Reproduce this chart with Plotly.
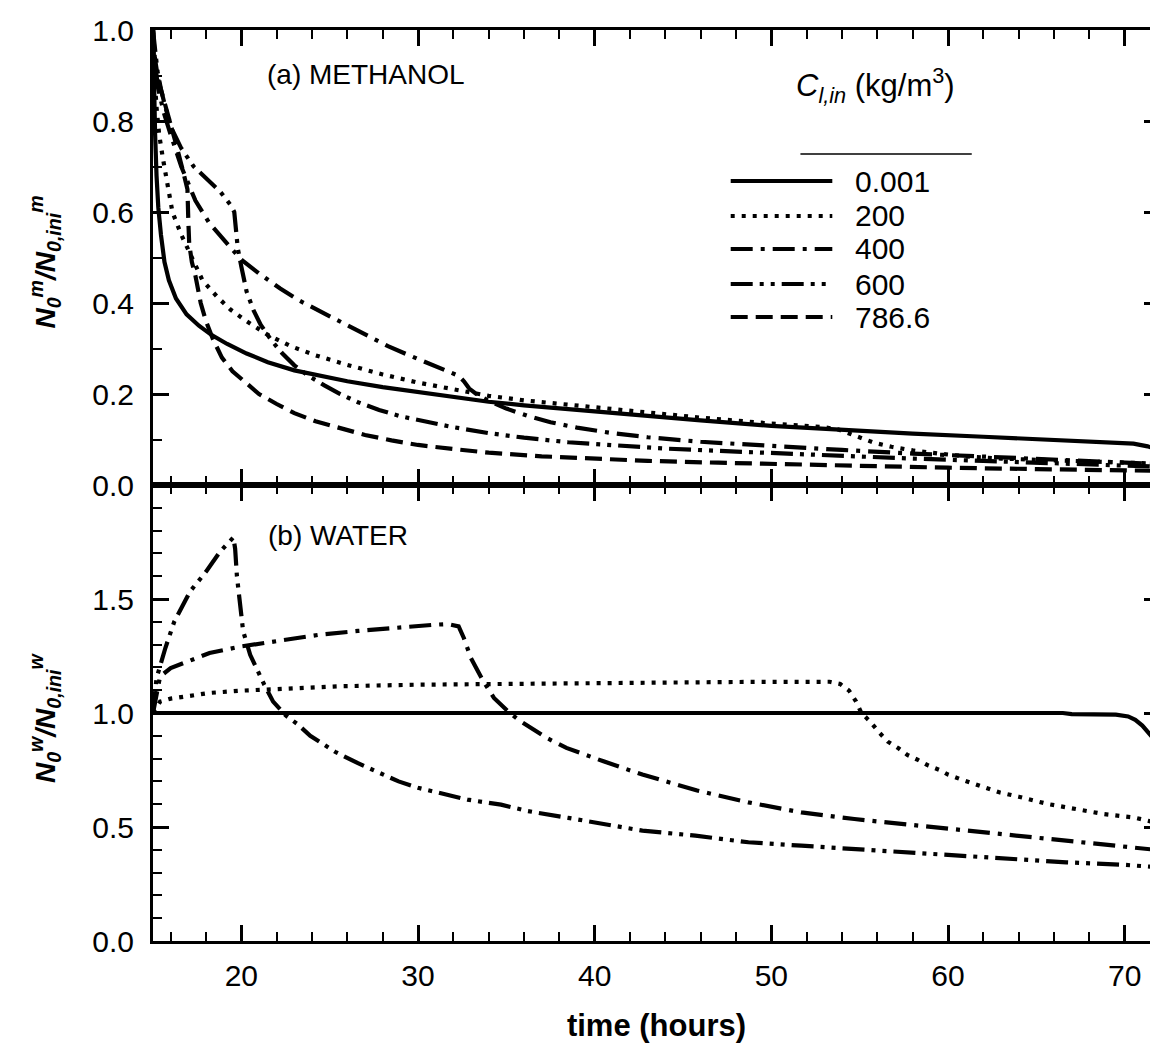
import plotly.graph_objects as go

# ---------------- data ----------------
series_labels = ["0.001", "200", "400", "600", "786.6"]

# (a) METHANOL
t_m_0001 = [15, 15.05, 15.12, 15.2, 15.3, 15.45, 15.65, 15.9, 16.3, 16.9, 17.6, 18.3, 19.2, 20.3, 21.5, 23, 24.5, 26, 28, 30, 32, 34, 36, 38, 40, 43, 46, 50, 54, 58, 62, 66, 69, 70.5, 71.3, 72]
m_0001 = [1.0, 0.88, 0.77, 0.68, 0.61, 0.55, 0.49, 0.45, 0.41, 0.375, 0.35, 0.33, 0.31, 0.289, 0.27, 0.252, 0.239, 0.228, 0.215, 0.204, 0.193, 0.183, 0.175, 0.168, 0.161, 0.151, 0.142, 0.13, 0.121, 0.113, 0.106, 0.1, 0.095, 0.091, 0.085, 0.076]

t_m_200 = [15, 15.08, 15.2, 15.35, 15.55, 15.8, 16.1, 16.6, 17.2, 17.8, 18.6, 19.4, 20.3, 21.5, 22.8, 24.2, 26, 28, 30, 32, 34, 36, 38, 40, 43, 46, 50, 53, 53.8, 54.4, 55, 55.8, 56.8, 58, 59.5, 61, 63, 65, 67, 69, 71, 72]
m_200 = [1.0, 0.9, 0.83, 0.77, 0.72, 0.66, 0.6, 0.55, 0.5, 0.45, 0.415, 0.385, 0.36, 0.33, 0.305, 0.285, 0.264, 0.243, 0.225, 0.21, 0.196, 0.186, 0.178, 0.171, 0.158, 0.148, 0.135, 0.127, 0.122, 0.113, 0.103, 0.093, 0.084, 0.076, 0.069, 0.063, 0.058, 0.055, 0.052, 0.05, 0.048, 0.047]

t_m_400 = [15, 15.1, 15.3, 15.6, 16, 16.6, 17.4, 18.2, 19.1, 20, 21, 22.2, 23.3, 24.3, 25.2, 26.2, 27.2, 28.3, 29.5, 30.6, 31.6, 32.3, 32.6, 32.9, 33.3, 34, 35, 36.2, 37.5, 39, 41, 43, 46, 50, 54, 58, 62, 66, 69, 72]
m_400 = [1.0, 0.93, 0.87, 0.82, 0.77, 0.7, 0.625, 0.575, 0.535, 0.495, 0.465, 0.432, 0.405, 0.385, 0.365, 0.345, 0.325, 0.305, 0.285, 0.267, 0.25, 0.24, 0.228, 0.212, 0.2, 0.185, 0.168, 0.152, 0.138, 0.126, 0.114, 0.105, 0.095, 0.085, 0.077, 0.069, 0.062, 0.056, 0.051, 0.046]

t_m_600 = [15, 15.1, 15.25, 15.45, 15.7, 16.1, 16.6, 17.3, 18, 18.8, 19.4, 19.6, 19.7, 19.8, 20, 20.3, 20.7, 21.1, 21.7, 22.3, 23, 23.8, 24.7, 25.6, 26.6, 27.8, 29, 30.5, 32, 34, 36, 38.5, 41, 44, 47, 50, 54, 58, 62, 66, 69, 72]
m_600 = [1.0, 0.96, 0.91, 0.87, 0.83, 0.78, 0.74, 0.7, 0.675, 0.645, 0.615, 0.6, 0.56, 0.52, 0.48, 0.425, 0.383, 0.352, 0.318, 0.29, 0.263, 0.24, 0.219, 0.2, 0.182, 0.165, 0.151, 0.138, 0.127, 0.114, 0.104, 0.094, 0.087, 0.08, 0.075, 0.07, 0.064, 0.058, 0.053, 0.048, 0.044, 0.04]

t_m_7866 = [15, 15.1, 15.3, 15.6, 15.9, 16.3, 16.7, 16.95, 17.0, 17.05, 17.2, 17.4, 17.7, 18, 18.4, 18.9, 19.5, 20.2, 21, 22, 23, 24.2, 25.5, 27, 28.5, 30, 32, 34, 37, 40, 43, 47, 50, 55, 60, 65, 72]
m_7866 = [1.0, 0.94, 0.89, 0.85, 0.81, 0.75, 0.69, 0.65, 0.58, 0.53, 0.49, 0.46, 0.4, 0.36, 0.32, 0.28, 0.25, 0.228, 0.2, 0.178, 0.158, 0.14, 0.125, 0.11, 0.098, 0.088, 0.079, 0.071, 0.063, 0.058, 0.053, 0.049, 0.046, 0.042, 0.038, 0.035, 0.031]

# (b) WATER
t_w_0001 = [15, 25, 35, 45, 55, 66.5, 67, 69.5, 70.2, 70.6, 71.0, 71.4, 71.8, 72]
w_0001 = [1.0, 1.0, 1.0, 1.0, 1.0, 1.0, 0.995, 0.993, 0.985, 0.97, 0.945, 0.91, 0.875, 0.855]

t_w_200 = [15, 15.4, 16, 16.9, 18.2, 20, 22.3, 25.5, 29.8, 34, 38.4, 42.7, 48, 53.3, 53.9, 54.4, 54.8, 55.1, 55.6, 56.1, 56.6, 57.2, 57.7, 58.3, 58.9, 59.5, 60, 60.7, 61.7, 62.9, 64, 65.7, 67, 68.8, 70.5, 72]
w_200 = [1.0, 1.05, 1.063, 1.073, 1.088, 1.098, 1.107, 1.117, 1.124, 1.127, 1.131, 1.134, 1.136, 1.137, 1.127, 1.098, 1.05, 1.0, 0.962, 0.915, 0.874, 0.845, 0.816, 0.794, 0.769, 0.751, 0.73, 0.71, 0.684, 0.652, 0.633, 0.6, 0.582, 0.557, 0.542, 0.515]

t_w_400 = [15, 15.4, 16, 16.9, 18.2, 20, 22.3, 24.4, 26.6, 28.7, 30.9, 31.7, 32.3, 32.6, 33, 33.7, 34.3, 35.2, 35.8, 37.3, 38.4, 40.5, 42.7, 45.8, 48.7, 51.7, 54.7, 57.7, 60.7, 63.7, 66.7, 69.8, 72]
w_400 = [1.0, 1.16, 1.197, 1.226, 1.263, 1.292, 1.321, 1.343, 1.36, 1.375, 1.387, 1.39, 1.38, 1.328, 1.24, 1.139, 1.066, 1.0, 0.964, 0.89, 0.847, 0.788, 0.73, 0.66, 0.608, 0.564, 0.535, 0.511, 0.488, 0.465, 0.442, 0.418, 0.398]

t_w_600 = [15, 15.2, 15.7, 16.2, 17.1, 18, 18.8, 19.55, 19.65, 19.75, 20.1, 20.5, 21.3, 21.8, 22.5, 23.2, 23.9, 24.4, 25.3, 26.6, 27.6, 28.9, 30, 31.3, 32.8, 34.7, 36.2, 38.5, 40.7, 42.7, 45.7, 48.7, 51.7, 54.7, 57.7, 60.7, 63.7, 66.7, 69.8, 72]
w_600 = [1.0, 1.153, 1.285, 1.4, 1.533, 1.62, 1.708, 1.77, 1.72, 1.6, 1.36, 1.255, 1.124, 1.05, 0.99, 0.95, 0.9, 0.876, 0.83, 0.78, 0.745, 0.70, 0.672, 0.65, 0.62, 0.598, 0.57, 0.54, 0.513, 0.484, 0.462, 0.433, 0.418, 0.403, 0.389, 0.374, 0.36, 0.345, 0.335, 0.323]

top_y_ticks = [0.0, 0.2, 0.4, 0.6, 0.8, 1.0]
bottom_y_ticks = [0.0, 0.5, 1.0, 1.5]
x_ticks = [20, 30, 40, 50, 60, 70]

# ---------------- styles ----------------
dashes = {
    "0.001": "solid",
    "200": "4px,7px",
    "400": "22px,8px,4px,8px",
    "600": "22px,7px,4px,7px,4px,7px",
    "786.6": "17px,8px",
}
LW = 4.2
FONT = "Arial, Liberation Sans, sans-serif"

fig = go.Figure()

top = [(t_m_0001, m_0001, "0.001"), (t_m_200, m_200, "200"), (t_m_400, m_400, "400"),
       (t_m_600, m_600, "600"), (t_m_7866, m_7866, "786.6")]
for t, v, lab in top:
    fig.add_trace(go.Scatter(x=t, y=v, mode="lines", name=lab, showlegend=False,
                             line=dict(color="black", width=LW, dash=dashes[lab]),
                             xaxis="x", yaxis="y"))

bottom = [(t_w_0001, w_0001, "0.001"), (t_w_200, w_200, "200"), (t_w_400, w_400, "400"),
          (t_w_600, w_600, "600")]
for t, v, lab in bottom:
    fig.add_trace(go.Scatter(x=t, y=v, mode="lines", name=lab, showlegend=False,
                             line=dict(color="black", width=LW, dash=dashes[lab]),
                             xaxis="x2", yaxis="y2"))

common = dict(showline=True, linewidth=3, linecolor="black", mirror="allticks",
              ticks="inside", ticklen=16, tickwidth=2.5, tickcolor="black",
              showgrid=False, zeroline=False)
minor_x = dict(ticks="inside", ticklen=9, tickwidth=2.2, tickcolor="black", dtick=2, tick0=0)
minor_y = dict(ticks="inside", ticklen=9, tickwidth=2.2, tickcolor="black", dtick=0.1, tick0=0)

split = 456 / 911

fig.update_layout(
    width=1158, height=1046,
    paper_bgcolor="white", plot_bgcolor="white",
    margin=dict(l=145, r=3, t=22, b=113),
    font=dict(family=FONT, color="black", size=30),
    xaxis=dict(**common, domain=[0, 1], anchor="y", range=[15, 72],
               tickvals=x_ticks, showticklabels=False, minor=minor_x),
    xaxis2=dict(**common, domain=[0, 1], anchor="y2", range=[15, 72],
                tickvals=x_ticks, ticktext=[str(v) for v in x_ticks],
                tickfont=dict(size=30), ticklabelstandoff=6, minor=minor_x,
                title=dict(text="<b>time (hours)</b>", font=dict(size=31), standoff=24)),
    yaxis=dict(**common, domain=[split, 1], anchor="x", range=[0, 1.0],
               tickvals=top_y_ticks, ticktext=[f"{v:.1f}" for v in top_y_ticks],
               tickfont=dict(size=30), ticklabelstandoff=10, minor=minor_y),
    yaxis2=dict(**common, domain=[0, split], anchor="x2", range=[0, 2.0],
                tickvals=bottom_y_ticks, ticktext=[f"{v:.1f}" for v in bottom_y_ticks],
                tickfont=dict(size=30), ticklabelstandoff=10, minor=minor_y),
)

# y-axis titles
fig.add_annotation(xref="paper", yref="paper", x=-0.107, y=0.745, textangle=-90,
                   text="<b><i>N<sub>0</sub><sup>m</sup>/N<sub>0,ini</sub><sup>m</sup></i></b>",
                   showarrow=False, font=dict(size=28), xanchor="center", yanchor="middle")
fig.add_annotation(xref="paper", yref="paper", x=-0.107, y=0.245, textangle=-90,
                   text="<b><i>N<sub>0</sub><sup>w</sup>/N<sub>0,ini</sub><sup>w</sup></i></b>",
                   showarrow=False, font=dict(size=28), xanchor="center", yanchor="middle")

# panel labels
fig.add_annotation(xref="paper", yref="paper", x=(257 - 145) / 1011, y=(933 - 66) / 911,
                   text="(a) METHANOL", showarrow=False, font=dict(size=28),
                   xanchor="left", yanchor="middle")
fig.add_annotation(xref="paper", yref="paper", x=(258 - 145) / 1011, y=(933 - 527) / 911,
                   text="(b) WATER", showarrow=False, font=dict(size=28),
                   xanchor="left", yanchor="middle")

# custom legend
fig.add_annotation(xref="paper", yref="paper", x=(870 - 145) / 1011, y=(933 - 78) / 911,
                   text="<i>C<sub>l,in</sub></i> (kg/m<sup>3</sup>)", showarrow=False,
                   font=dict(size=31), xanchor="center", yanchor="middle")
fig.add_shape(type="line", xref="paper", yref="paper",
              x0=(795 - 145) / 1011, x1=(967 - 145) / 1011,
              y0=(933 - 146) / 911, y1=(933 - 146) / 911,
              line=dict(color="black", width=1.5))
rows_px = [173, 208, 241, 276, 309]
for lab, ypx in zip(series_labels, rows_px):
    yp = (933 - ypx) / 911
    fig.add_shape(type="line", xref="paper", yref="paper",
                  x0=(725 - 145) / 1011, x1=(827 - 145) / 1011, y0=yp, y1=yp,
                  line=dict(color="black", width=LW, dash=dashes[lab]))
    fig.add_annotation(xref="paper", yref="paper", x=(848 - 145) / 1011, y=yp,
                       text=lab, showarrow=False, font=dict(size=30),
                       xanchor="left", yanchor="middle")

fig.write_html("out.html")
